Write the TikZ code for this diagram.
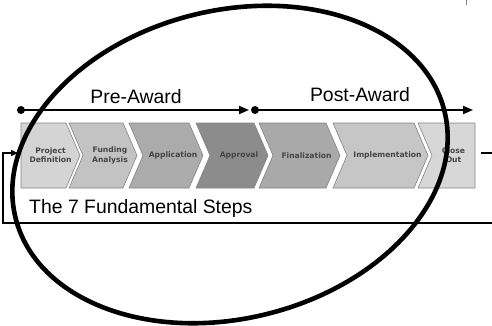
\documentclass[tikz,border=0pt]{standalone}
\usepackage{fontspec}
\setmainfont{Liberation Sans}
\newfontfamily\stepfont{DejaVu Sans}
\usetikzlibrary{arrows.meta}
\definecolor{stepline}{HTML}{848484}
\definecolor{steptxt}{HTML}{444444}
\tikzset{
  steptext/.style={font=\stepfont\bfseries\fontsize{7.6}{9.2}\selectfont, text=steptxt, align=center, inner sep=0pt},
  phase/.style={line width=1.8pt, -{Triangle[length=10pt,width=8pt]}},
  phasedot/.style={circle, fill=black, inner sep=0pt, minimum size=8pt},
  phaselabel/.style={font=\fontsize{19.4}{21}\selectfont, inner sep=0pt},
  loopline/.style={line width=1.3pt},
}
\begin{document}
\begin{tikzpicture}[x=1pt,y=1pt]
  \useasboundingbox (0,0) rectangle (492,-326);
  \clip (0,0) rectangle (492,-326);
  % the seven steps: left x / notch / top-right x / tip / fill / name / text
  \foreach \l/\ln/\r/\rt/\col/\nm/\txt in {
      21/0/66/14/D4D4D4/pd/{Project\\Definition},
      69/14/123/14/C3C3C3/fa/{Funding\\Analysis},
      129/14/189/14/ABABAB/app/Application,
      196/14/254/14/8C8C8C/appr/Approval,
      259/14/326/14/A9A9A9/fin/Finalization,
      333/14/414/14/C6C6C6/impl/Implementation,
      418/14/475/0/D7D7D7/co/{Close\\Out}}
  {
    \definecolor{stepfill}{HTML}{\col}
    \path[fill=stepfill, draw=stepline, line width=0.6pt]
      (\l,-123) -- (\r,-123) -- (\r+\rt,-155.5) -- (\r,-188)
      -- (\l,-188) -- (\l+\ln,-155.5) -- cycle;
    \node[steptext] (\nm) at ({(\l+\ln+\r+\rt)/2},-155.5) {\txt};
  }
  % phases
  \node[phasedot] (preS) at (21,-110) {};
  \coordinate (preE) at (249,-110);
  \draw[phase] (preS.center) -- (preE);
  \node[phaselabel] (pre) at (136,-97) {Pre-Award};
  \node[phasedot] (postS) at (255,-110) {};
  \coordinate (postE) at (473,-110);
  \draw[phase] (postS.center) -- (postE);
  \node[phaselabel] (post) at (360,-95) {Post-Award};
  \node[phaselabel, anchor=west] (title) at (29,-208) {The 7 Fundamental Steps};
  % loop back
  \coordinate (loopout) at (481,-153);
  \coordinate (loopin) at (18,-153);
  \draw[loopline, -{Triangle[length=7pt,width=6pt]}]
    (loopout) -- (500,-153) |- (3,-223) |- (loopin);
  \draw[gray, line width=0.8pt] (466,0) -- (466,-5);
  % the ring
  \draw[line width=4.6pt, rotate around={14:(230,-164.5)}]
    (230,-164.5) ellipse [x radius=221, y radius=154];
\end{tikzpicture}
\end{document}
